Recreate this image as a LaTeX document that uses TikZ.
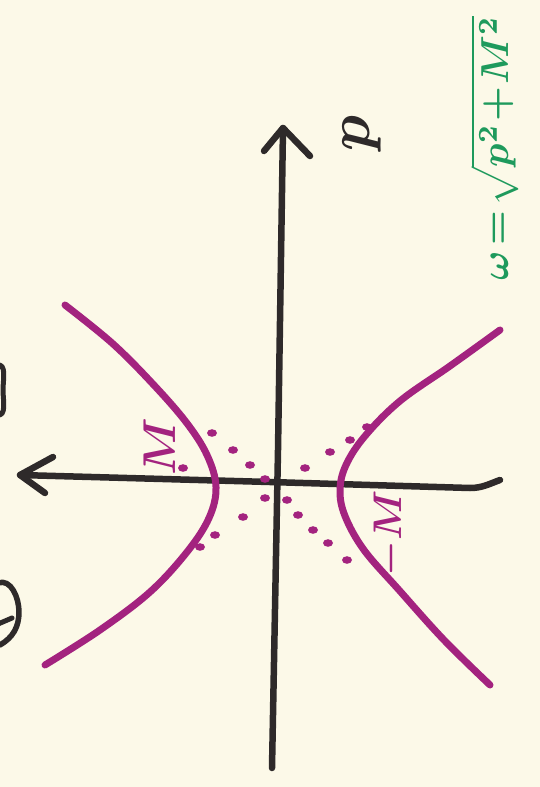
\documentclass[tikz,border=0pt]{standalone}
\usepackage{tikz}
\definecolor{paper}{HTML}{FCF9E8}
\definecolor{ink}{HTML}{2E2A2A}
\definecolor{mag}{HTML}{A3237F}
\definecolor{grn}{HTML}{1E9A5C}
\begin{document}
\begin{tikzpicture}[x=1pt,y=-1pt,
  axis/.style={ink,line width=6.5pt,line cap=round,line join=round},
  branch/.style={mag,line width=7pt,line cap=round},
  dotm/.style={mag,fill=mag,draw=none},
  lbl/.style={inner sep=0pt,rotate=90,font=\boldmath}]
\fill[paper] (0,0) rectangle (540,787);
\useasboundingbox (0,0) rectangle (540,787);
% axes
\coordinate (vb) at (272,768);
\coordinate (vt) at (283,128);
\coordinate (vl) at (264,151);
\coordinate (vr) at (310,156);
\draw[axis] (vb) -- (278,450) -- (vt);
\draw[axis] (vl) -- (vt) -- (vr);
\coordinate (ht) at (20,475);
\coordinate (hu) at (53,457);
\coordinate (hd) at (45,493);
\coordinate (he) at (500,480);
\draw[axis] (ht) -- (270,482) -- (470,488) to[out=0,in=200] (he);
\draw[axis] (hu) -- (ht) -- (hd);
% partial glyphs at left edge
\draw[axis,line width=5pt] (-3,365) to[out=10,in=90] (3,390) to[out=-90,in=-10] (-3,415);
\draw[axis,line width=5.5pt] (-2,583) to[out=20,in=90] (19,612) to[out=-90,in=30] (0,645);
\draw[axis,line width=5pt] (-2,624) -- (12,618);
% hyperbola branches
\draw[branch] plot[smooth,tension=0.6] coordinates {(65,305) (112,343) (152,383) (186,422) (207,455) (216,487) (209,518) (187,552) (150,592) (100,630) (45,665)};
\draw[branch] plot[smooth,tension=0.6] coordinates {(500,330) (450,366) (400,401) (365,436) (346,465) (340,490) (345,516) (364,550) (399,590) (444,640) (490,685)};
% dotted asymptotes
\foreach \p in {(212,433),(233,450),(250,465),(265,479),(265,498),(243,517),(215,535),(200,547),
  (367,427),(350,440),(330,452),(305,468),(287,500),(298,515),(313,530),(328,543),(347,560),(183,468)}
  \fill[dotm] \p ellipse (5 and 3.8);
% labels
\node[lbl,mag,scale=4.6] (lm) at (160,447) {$M$};
\node[lbl,mag,scale=4.0] (lmm) at (390,533) {$-M$};
\node[lbl,ink,scale=6] (lp) at (362,133) {$p$};
\node[lbl,grn,scale=3.9,anchor=south] (lw) at (520,148) {$\omega\!=\!\sqrt{p^2\!+\!M^2}$};
\end{tikzpicture}
\end{document}
